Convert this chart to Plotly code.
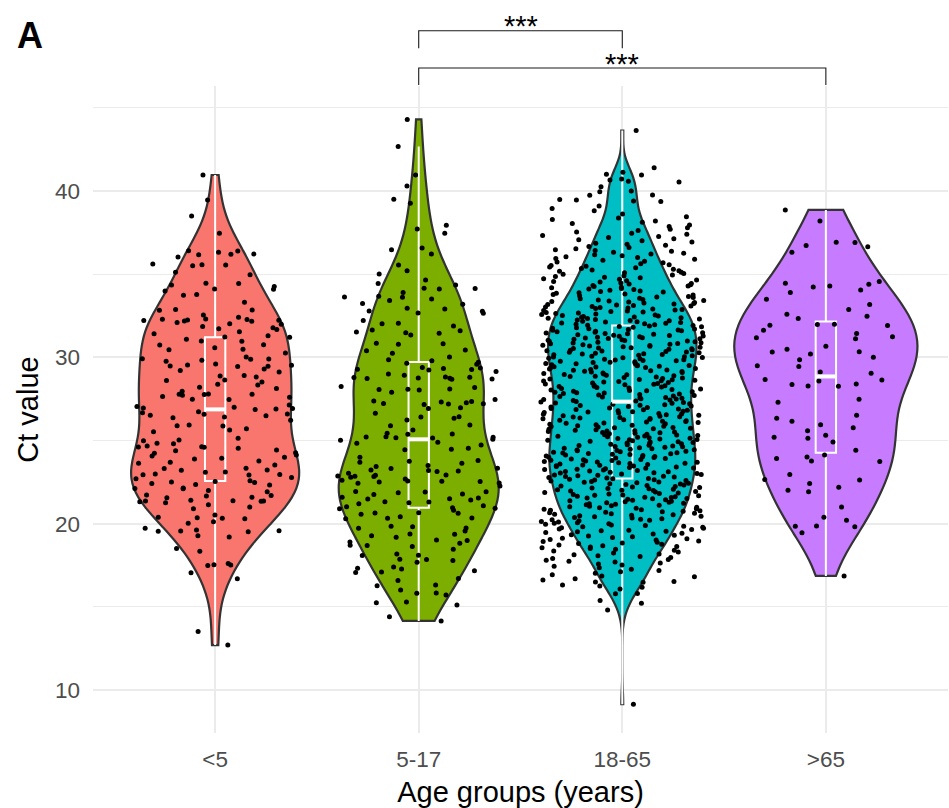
import numpy as np
import plotly.graph_objects as go

# ---------------- data (Ct values) ----------------
categories = ["<5", "5-17", "18-65", ">65"]
tick_labels = ["&lt;5", "5-17", "18-65", "&gt;65"]
colors = ["#F8766D", "#7CAE00", "#00BFC4", "#C77CFF"]
y_ticks = [10, 20, 30, 40]
y_minor_ticks = [15, 25, 35, 45]

ct_under5 = [
    25.63, 25.53, 25.13, 24.53, 24.27, 25.03, 24.83, 24.81, 24.99, 24.63, 24.23, 23.99, 24.59, 24.39, 24.67, 24.61, 24.43,
    23.63, 24.07, 23.69, 24.13, 23.77, 23.93, 23.53, 23.89,
    23.23, 22.78, 23.11, 23.33, 22.96, 22.94, 23.31, 23.09, 22.98, 22.70, 22.92, 23.21,
    22.58, 22.54, 22.10, 22.14, 21.92, 22.50, 22.12, 22.42, 22.48, 22.32, 22.36, 22.00, 21.72, 21.66, 21.70, 21.36,
    21.40, 21.00, 21.26, 20.90, 21.34, 21.32, 21.38, 21.58, 21.36, 21.14, 21.56, 20.52, 20.12, 20.32, 20.30, 20.38, 20.02,
    19.52, 19.56, 19.54, 19.58, 19.62, 19.72, 20.36,
    19.20, 19.28, 18.50, 18.34, 17.61, 17.51, 17.53, 17.49,
    17.05, 16.69, 13.51, 12.70,
    40.96, 39.46, 38.50,
    37.46, 36.41, 36.31, 36.21, 36.19, 36.39, 36.03, 36.17, 35.61, 35.51, 35.57, 35.55, 34.97, 35.11, 34.45, 34.35, 34.25, 34.43,
    33.99, 34.09, 33.73, 33.77, 34.11, 33.31, 32.85, 32.83, 32.55, 32.87,
    32.02, 32.31, 31.77, 32.21, 32.29, 31.98, 31.71, 31.42, 32.19, 31.85, 32.25, 32.09, 31.54, 31.30, 32.23, 32.27, 32.41,
    32.17, 31.67, 31.08, 31.22, 30.98, 30.76, 30.96, 30.74, 31.20, 30.46, 30.58,
    29.60, 29.20, 28.91, 29.46, 29.92, 29.82, 29.76, 29.90, 30.26, 30.02, 29.30, 29.54, 29.12, 29.88, 29.48, 29.52, 29.44,
    28.60, 28.82, 28.64, 28.38, 28.34, 28.12, 28.52, 30.48,
    28.88, 27.78, 27.13, 27.72, 27.46, 26.92, 26.96, 26.90, 26.41, 26.51, 26.67, 26.57, 26.49, 27.05, 27.60, 27.76, 27.80,
    27.64, 27.96, 27.78, 27.48, 27.00, 28.20, 26.87, 26.59, 26.73, 26.37, 26.21, 25.87, 25.71, 25.93, 25.89,
]

ct_5_17 = [
    44.30, 42.67, 40.96, 40.30, 39.50, 39.26, 37.94, 37.72, 37.46, 36.57, 36.47, 36.21, 35.55, 35.21, 34.65, 34.43,
    34.35, 33.61, 32.77, 35.01, 34.15, 34.13, 33.89, 34.11, 33.63, 33.67, 33.51, 33.41, 32.95, 33.19, 33.23, 32.79,
    32.67, 32.91, 32.65, 32.22, 32.04, 31.52, 31.44, 30.84, 31.64, 31.60, 32.02, 31.48, 31.88, 31.34, 30.82, 30.78,
    30.02, 30.44, 30.40, 30.24, 29.70, 29.64, 29.58, 29.38, 29.24, 29.32, 29.28, 29.80, 29.26, 29.00, 28.78, 28.80,
    28.72, 29.36, 29.86, 29.14, 28.82, 28.76, 28.70, 28.74, 28.68, 28.92, 28.24, 27.90, 28.10, 28.04, 28.06, 28.08,
    28.18, 27.47,
    27.23, 27.19, 27.17, 27.21, 27.34, 26.97, 27.32, 27.27, 27.37, 26.93, 26.63, 26.43, 26.41, 26.33, 26.23, 25.93,
    25.89, 25.63, 25.39, 25.17, 24.89, 25.19, 25.37, 25.21, 25.43, 25.07, 24.73, 24.47, 23.99, 23.75, 23.31, 23.69,
    22.83, 22.53, 22.91, 22.43, 22.45, 21.92, 23.03, 23.63, 23.19, 22.55, 22.57, 24.83, 23.13, 23.79, 23.49, 24.45,
    23.43, 23.33, 22.93, 22.87, 22.61, 21.90, 21.86, 25.15, 25.23, 24.53, 25.01, 22.85, 23.23, 23.17, 22.69, 22.79,
    22.51, 22.27, 21.94, 21.32, 21.54, 21.58, 21.08, 20.66, 20.56, 20.90, 20.80, 21.20, 20.34, 20.32, 21.30, 21.76,
    21.78, 21.42, 21.26, 20.92, 20.64, 20.96, 20.62, 20.42, 21.50, 21.02, 21.48, 20.30, 19.74, 19.38, 19.36, 18.68,
    18.90, 19.72, 18.82, 18.62, 18.18, 19.28, 18.46, 19.56, 19.84, 19.82, 18.70, 19.18, 18.98, 19.02, 18.08, 17.84,
    17.32, 17.10, 16.59, 16.31, 17.68, 17.28, 17.17, 17.07, 18.10, 16.71, 17.78, 17.86, 17.40, 16.01, 16.27, 15.71,
    15.81, 15.83, 15.25, 15.11, 15.29, 14.41, 14.15,
]

ct_18_65 = [
    9.15, 14.81, 15.21, 15.38,
    15.79, 15.80, 16.07, 16.17, 16.25, 16.31, 16.48, 16.49,
    16.52, 16.61, 16.69, 16.81, 16.86, 16.93, 17.02, 17.11, 17.18, 17.26, 17.35, 17.44,
    17.52, 17.57, 17.63, 17.69, 17.74, 17.80, 17.85, 17.91, 17.96, 18.02, 18.07, 18.13, 18.18, 18.24, 18.29, 18.35,
    18.40, 18.46,
    18.51, 18.55, 18.59, 18.63, 18.67, 18.71, 18.76, 18.80, 18.84, 18.88, 18.92, 18.96, 19.01, 19.05, 19.09, 19.13,
    19.17, 19.21, 19.26, 19.30, 19.34, 19.38, 19.42, 19.47,
    19.51, 19.54, 19.58, 19.61, 19.65, 19.68, 19.72, 19.75, 19.78, 19.82, 19.85, 19.89, 19.92, 19.96, 19.99, 20.03,
    20.06, 20.10, 20.13, 20.17, 20.20, 20.23, 20.27, 20.30, 20.34, 20.37, 20.41, 20.44, 20.48,
    20.51, 20.54, 20.57, 20.60, 20.63, 20.66, 20.69, 20.72, 20.75, 20.78, 20.81, 20.84, 20.87, 20.90, 20.93, 20.96,
    20.99, 21.01, 21.04, 21.07, 21.10, 21.13, 21.16, 21.19, 21.22, 21.25, 21.28, 21.31, 21.34, 21.37, 21.40, 21.43,
    21.46, 21.49,
    21.51, 21.54, 21.57, 21.59, 21.62, 21.65, 21.68, 21.71, 21.73, 21.76, 21.79, 21.82, 21.85, 21.87, 21.90, 21.93,
    21.96, 21.99, 22.01, 22.04, 22.07, 22.10, 22.12, 22.15, 22.18, 22.21, 22.24, 22.26, 22.29, 22.32, 22.35, 22.38,
    22.40, 22.43, 22.46, 22.49,
    22.51, 22.54, 22.56, 22.59, 22.62, 22.64, 22.67, 22.70, 22.72, 22.75, 22.78, 22.80, 22.83, 22.85, 22.88, 22.91,
    22.93, 22.96, 22.99, 23.01, 23.04, 23.06, 23.09, 23.12, 23.14, 23.17, 23.20, 23.22, 23.25, 23.27, 23.30, 23.33,
    23.35, 23.38, 23.41, 23.43, 23.46, 23.48,
    23.51, 23.53, 23.56, 23.58, 23.61, 23.63, 23.66, 23.69, 23.71, 23.74, 23.76, 23.79, 23.81, 23.84, 23.86, 23.89,
    23.92, 23.94, 23.97, 23.99, 24.02, 24.04, 24.07, 24.09, 24.12, 24.15, 24.17, 24.20, 24.22, 24.25, 24.27, 24.30,
    24.32, 24.35, 24.38, 24.40, 24.43, 24.45, 24.48,
    24.51, 24.54, 24.56, 24.59, 24.62, 24.64, 24.67, 24.70, 24.72, 24.75, 24.78, 24.80, 24.83, 24.85, 24.88, 24.91,
    24.93, 24.96, 24.99, 25.01, 25.04, 25.06, 25.09, 25.12, 25.14, 25.17, 25.20, 25.22, 25.25, 25.27, 25.30, 25.33,
    25.35, 25.38, 25.41, 25.43, 25.46, 25.48,
    25.51, 25.54, 25.57, 25.59, 25.62, 25.65, 25.67, 25.70, 25.73, 25.76, 25.78, 25.81, 25.84, 25.86, 25.89, 25.92,
    25.95, 25.97, 26.00, 26.03, 26.05, 26.08, 26.11, 26.14, 26.16, 26.19, 26.22, 26.24, 26.27, 26.30, 26.32, 26.35,
    26.38, 26.41, 26.43, 26.46, 26.49,
    26.51, 26.54, 26.57, 26.59, 26.62, 26.65, 26.68, 26.71, 26.73, 26.76, 26.79, 26.82, 26.85, 26.87, 26.90, 26.93,
    26.96, 26.99, 27.01, 27.04, 27.07, 27.10, 27.12, 27.15, 27.18, 27.21, 27.24, 27.26, 27.29, 27.32, 27.35, 27.38,
    27.40, 27.43, 27.46, 27.49,
    27.51, 27.54, 27.57, 27.59, 27.62, 27.65, 27.68, 27.71, 27.73, 27.76, 27.79, 27.82, 27.85, 27.87, 27.90, 27.93,
    27.96, 27.99, 28.01, 28.04, 28.07, 28.10, 28.12, 28.15, 28.18, 28.21, 28.24, 28.26, 28.29, 28.32, 28.35, 28.38,
    28.40, 28.43, 28.46, 28.49,
    28.51, 28.54, 28.57, 28.59, 28.62, 28.65, 28.67, 28.70, 28.73, 28.76, 28.78, 28.81, 28.84, 28.86, 28.89, 28.92,
    28.95, 28.97, 29.00, 29.03, 29.05, 29.08, 29.11, 29.14, 29.16, 29.19, 29.22, 29.24, 29.27, 29.30, 29.32, 29.35,
    29.38, 29.41, 29.43, 29.46, 29.49,
    29.51, 29.53, 29.56, 29.58, 29.61, 29.63, 29.66, 29.69, 29.71, 29.74, 29.76, 29.79, 29.81, 29.84, 29.86, 29.89,
    29.92, 29.94, 29.97, 29.99, 30.02, 30.04, 30.07, 30.09, 30.12, 30.15, 30.17, 30.20, 30.22, 30.25, 30.27, 30.30,
    30.32, 30.35, 30.38, 30.40, 30.43, 30.45, 30.48,
    30.51, 30.53, 30.56, 30.58, 30.61, 30.63, 30.66, 30.68, 30.71, 30.73, 30.76, 30.78, 30.81, 30.83, 30.86, 30.88,
    30.91, 30.93, 30.96, 30.98, 31.01, 31.03, 31.06, 31.08, 31.11, 31.13, 31.16, 31.18, 31.21, 31.23, 31.26, 31.28,
    31.31, 31.33, 31.36, 31.38, 31.41, 31.43, 31.46, 31.48,
    31.51, 31.54, 31.56, 31.59, 31.62, 31.64, 31.67, 31.70, 31.72, 31.75, 31.78, 31.80, 31.83, 31.85, 31.88, 31.91,
    31.93, 31.96, 31.99, 32.01, 32.04, 32.06, 32.09, 32.12, 32.14, 32.17, 32.20, 32.22, 32.25, 32.27, 32.30, 32.33,
    32.35, 32.38, 32.41, 32.43, 32.46, 32.48,
    32.51, 32.54, 32.57, 32.60, 32.63, 32.66, 32.69, 32.72, 32.75, 32.78, 32.81, 32.84, 32.87, 32.90, 32.93, 32.96,
    32.99, 33.02, 33.05, 33.08, 33.11, 33.14, 33.17, 33.20, 33.23, 33.26, 33.29, 33.32, 33.35, 33.38, 33.41, 33.44,
    33.47,
    33.52, 33.55, 33.59, 33.63, 33.66, 33.70, 33.74, 33.77, 33.81, 33.85, 33.88, 33.92, 33.96, 33.99, 34.03, 34.07,
    34.10, 34.14, 34.18, 34.21, 34.25, 34.29, 34.32, 34.36, 34.40, 34.43, 34.47,
    34.52, 34.56, 34.60, 34.65, 34.69, 34.73, 34.78, 34.82, 34.86, 34.91, 34.95, 34.99, 35.04, 35.08, 35.12, 35.17,
    35.21, 35.25, 35.30, 35.34, 35.38, 35.43, 35.47,
    35.52, 35.57, 35.62, 35.68, 35.73, 35.78, 35.84, 35.89, 35.94, 36.00, 36.05, 36.10, 36.16, 36.21, 36.26, 36.32,
    36.37, 36.42, 36.47,
    36.53, 36.60, 36.66, 36.73, 36.80, 36.86, 36.93, 37.00, 37.06, 37.13, 37.20, 37.26, 37.33, 37.40, 37.46,
    37.54, 37.62, 37.70, 37.79, 37.87, 37.95, 38.04, 38.12, 38.20, 38.29, 38.37, 38.45,
    38.62, 38.81, 38.95, 39.10, 39.36, 39.40, 39.46, 39.48,
    39.74, 39.76, 39.96, 40.00, 40.25, 40.54, 40.58, 40.66, 40.72, 40.96, 41.00, 41.12, 41.40, 43.63,
]

ct_over65 = [
    38.86, 38.20, 36.64, 36.90, 36.92, 36.32, 36.72, 34.55, 33.89, 33.49, 34.29, 34.05, 34.45, 34.39, 34.23, 33.17,
    32.87, 32.59, 32.33, 32.47, 31.99, 31.93, 31.63, 31.97, 31.91, 31.43, 31.11, 31.23, 31.17, 30.32, 30.67, 30.49,
    30.34, 30.20, 30.00, 29.86, 29.50, 29.44, 29.12, 29.04, 28.26, 28.28, 28.40, 28.36, 28.64, 28.58, 28.66, 27.48,
    27.30, 26.16, 26.34, 26.52, 25.94, 25.59, 24.91, 25.19, 25.31, 25.13, 25.77, 24.41, 23.91, 24.13, 23.77, 24.01,
    23.73, 22.95, 22.65, 22.63, 22.01, 22.19, 22.41, 21.92, 21.00, 20.38, 20.20, 19.86, 19.84, 19.82, 19.46, 16.86,
]

groups = [ct_under5, ct_5_17, ct_18_65, ct_over65]


def nrd0(values):
    v = np.asarray(values, dtype=float)
    iqr = np.subtract(*np.percentile(v, [75, 25]))
    return 0.9 * min(v.std(ddof=1), iqr / 1.34) * len(v) ** -0.2


def kde_peak(values, bw):
    v = np.asarray(values, dtype=float)
    grid = np.linspace(v.min(), v.max(), 600)
    z = (grid[:, None] - v[None, :]) / bw
    dens = np.exp(-0.5 * z ** 2).sum(axis=1) / (len(v) * bw * np.sqrt(2 * np.pi))
    return dens.max()


# the 18-65 group is written from its density outline, so it gets a narrower kernel
bandwidths = [nrd0(ct_under5), nrd0(ct_5_17), 0.8, nrd0(ct_over65)]

# ggplot "area" scaling: every violin has the same area, the densest one is 0.9 wide
peaks = [kde_peak(g, bw) for g, bw in zip(groups, bandwidths)]
violin_widths = [0.9 * p / max(peaks) for p in peaks]

fig = go.Figure()
for i, (vals, col, bw, w) in enumerate(zip(groups, colors, bandwidths, violin_widths)):
    fig.add_trace(go.Violin(
        x0=i, y=vals, name=categories[i],
        width=w, scalemode="width",
        spanmode="hard", bandwidth=bw,
        fillcolor=col, line=dict(color="#333333", width=2.2),
        points=False,
        box=dict(visible=True, width=0.1 / w, fillcolor="rgba(0,0,0,0)",
                 line=dict(color="white", width=2)),
        meanline=dict(visible=False),
        hoverinfo="skip", showlegend=False,
    ))

# jittered points (own trace so the spread is +-0.4 for every group)
for i, vals in enumerate(groups):
    fig.add_trace(go.Box(
        x0=i, y=vals, name=categories[i] + " points", width=0.9,
        boxpoints="all", jitter=0.89, pointpos=0,
        fillcolor="rgba(0,0,0,0)", line=dict(color="rgba(0,0,0,0)", width=0),
        marker=dict(color="black", size=5, opacity=1, line=dict(width=0)),
        hoverinfo="skip", showlegend=False,
    ))

# thicker median bar, as in ggplot's boxplot
for i, vals in enumerate(groups):
    med = float(np.median(vals))
    fig.add_trace(go.Scatter(
        x=[i - 0.05, i + 0.05], y=[med, med], mode="lines",
        line=dict(color="white", width=4), hoverinfo="skip", showlegend=False,
    ))

# significance brackets (above the panel)
brackets = [(1, 2, 1.0855, 1.0583, 1.0927), (1, 3, 1.0278, 1.0015, 1.0340)]
shapes = []
annotations = []
for a, b, ytop, ybot, ytxt in brackets:
    shapes.append(dict(type="path", xref="x", yref="paper",
                       path=f"M{a},{ybot} L{a},{ytop} L{b},{ytop} L{b},{ybot}",
                       line=dict(color="#1a1a1a", width=1.1)))
    annotations.append(dict(text="***", x=(a + b) / 2, y=ytxt, xref="x", yref="paper",
                            xanchor="center", yanchor="middle", showarrow=False,
                            font=dict(size=29, color="black")))

annotations.append(dict(text="<b>A</b>", x=-0.0737, y=1.0788, xref="paper", yref="paper",
                        xanchor="center", yanchor="middle", showarrow=False,
                        font=dict(size=36, color="black")))

fig.update_layout(
    width=949, height=808, autosize=False,
    margin=dict(l=93, r=1, t=86, b=75, pad=0),
    paper_bgcolor="white", plot_bgcolor="white",
    showlegend=False, violinmode="overlay", boxmode="overlay",
    font=dict(family="Liberation Sans, Arial, sans-serif", color="black"),
    shapes=shapes, annotations=annotations,
    xaxis=dict(range=[-0.6, 3.6], tickmode="array", tickvals=list(range(len(categories))),
               ticktext=tick_labels, showgrid=True, gridcolor="#EBEBEB", gridwidth=2,
               zeroline=False, showline=False, ticks="",
               tickfont=dict(size=22.5, color="#4D4D4D"), ticklabelstandoff=10,
               title=dict(text="Age groups (years)", font=dict(size=29, color="black"), standoff=11)),
    yaxis=dict(range=[7.415, 46.31], tickmode="array", tickvals=y_ticks,
               showgrid=True, gridcolor="#EBEBEB", gridwidth=2, zeroline=False, showline=False,
               ticks="", tickfont=dict(size=22.5, color="#4D4D4D"), ticklabelstandoff=12,
               minor=dict(tickvals=y_minor_ticks, showgrid=True, gridcolor="#EBEBEB", gridwidth=1),
               title=dict(text="Ct value", font=dict(size=29, color="black"), standoff=7)),
)

fig.write_html("out.html", config={"displayModeBar": False},
               post_script="document.body.style.margin='0px';")
